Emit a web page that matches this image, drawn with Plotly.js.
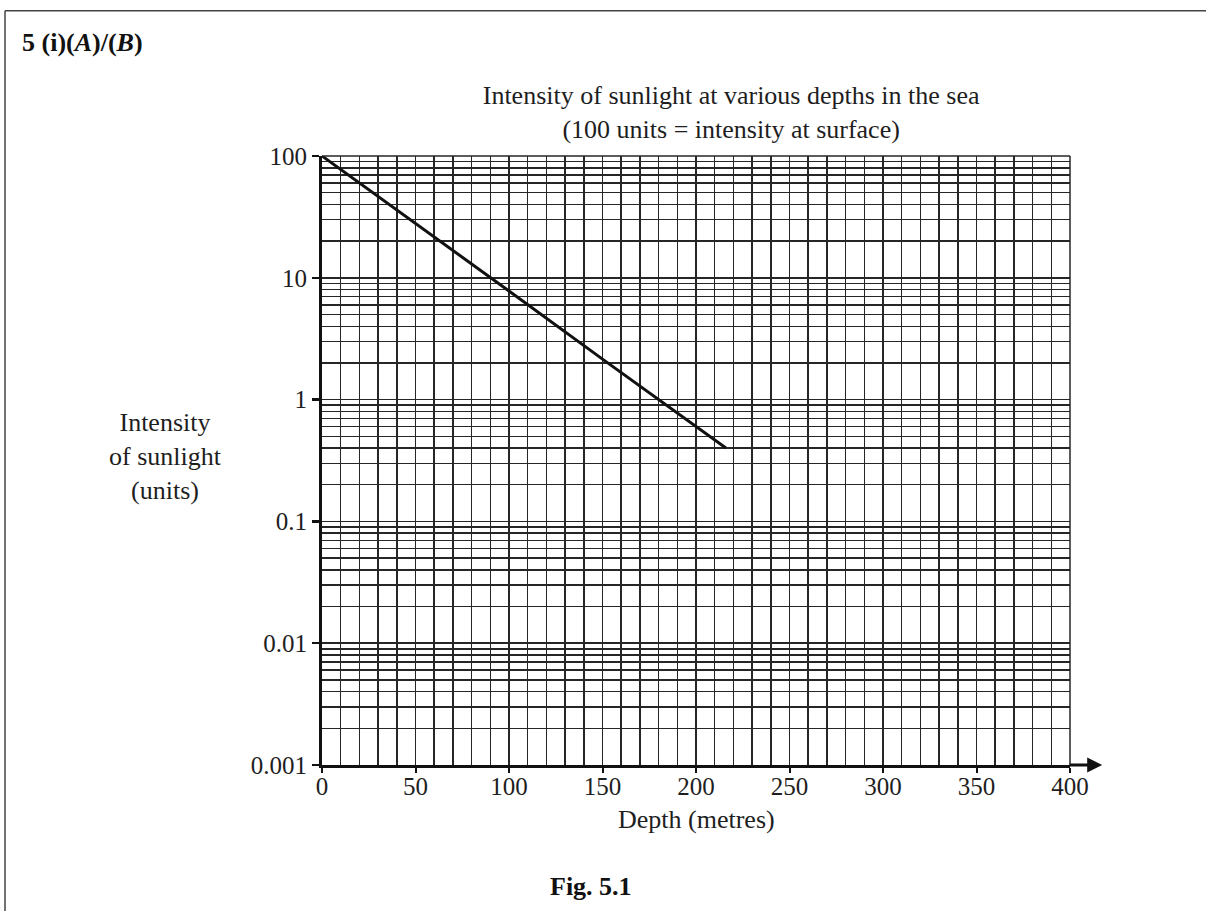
<!DOCTYPE html>
<html>
<head>
<meta charset="utf-8">
<script src="https://cdn.plot.ly/plotly-3.0.1.min.js"></script>
<style>
html,body{margin:0;padding:0;background:#fff;}
#chart{width:1206px;height:911px;}
</style>
</head>
<body>
<div id="chart"></div>
<script>
// Data
const depths = [0, 50, 100, 150, 200, 216];
const intensity = [100, 28, 7.8, 2.15, 0.6, 0.4];

const xTickVals = [0, 50, 100, 150, 200, 250, 300, 350, 400];
const xTickText = ["0", "50", "100", "150", "200", "250", "300", "350", "400"];
const yTickVals = [0.001, 0.01, 0.1, 1, 10, 100];
const yTickText = ["0.001", "0.01", "0.1", "1", "10", "100"];

const chartTitle = "Intensity of sunlight at various depths in the sea<br>(100 units = intensity at surface)";
const xTitle = "Depth (metres)";
const yTitle = "Intensity<br>of sunlight<br>(units)";
const questionLabel = "<b>5 (i)(<i>A</i>)/(<i>B</i>)</b>";
const figLabel = "<b>Fig. 5.1</b>";

const FONT = "Liberation Serif, Times New Roman, serif";
const INK = "#1e1e1e";
const GRID = "#262626";

const trace = {
  x: depths,
  y: intensity,
  type: "scatter",
  mode: "lines",
  line: {color: "#111", width: 3},
  hoverinfo: "skip",
  cliponaxis: false
};

const layout = {
  width: 1206,
  height: 911,
  margin: {l: 322, r: 136, t: 156, b: 146},
  paper_bgcolor: "#fff",
  plot_bgcolor: "#fff",
  showlegend: false,
  font: {family: FONT, size: 25, color: INK},
  title: {
    text: chartTitle,
    font: {family: FONT, size: 26, color: INK},
    x: 0.547, xref: "paper", xanchor: "center",
    y: 0.886, yref: "container", yanchor: "middle"
  },
  xaxis: {
    range: [0, 400],
    tickmode: "array",
    tickvals: xTickVals,
    ticktext: xTickText,
    ticks: "outside",
    ticklen: 5,
    tickwidth: 2,
    tickcolor: "#111",
    ticklabelstandoff: -8,
    showline: true,
    linecolor: "#111",
    linewidth: 3,
    showgrid: true,
    gridcolor: GRID,
    gridwidth: 1.5,
    zeroline: false,
    minor: {dtick: 10, showgrid: true, gridcolor: GRID, gridwidth: 1.5, ticks: ""},
    tickfont: {family: FONT, size: 25, color: INK},
    fixedrange: true
  },
  yaxis: {
    type: "log",
    range: [-3, 2],
    tickmode: "array",
    tickvals: yTickVals,
    ticktext: yTickText,
    ticks: "outside",
    ticklen: 7,
    tickwidth: 2.5,
    tickcolor: "#111",
    showline: true,
    linecolor: "#111",
    linewidth: 3,
    showgrid: true,
    gridcolor: GRID,
    gridwidth: 1.5,
    zeroline: false,
    minor: {dtick: "D1", showgrid: true, gridcolor: GRID, gridwidth: 1.5, ticks: ""},
    tickfont: {family: FONT, size: 25, color: INK},
    fixedrange: true
  },
  shapes: [
    // top and right borders of the grid
    {type: "line", xref: "paper", yref: "paper", x0: 0, x1: 1, y0: 1, y1: 1, line: {color: GRID, width: 1.5}},
    {type: "line", xref: "paper", yref: "paper", x0: 1, x1: 1, y0: 0, y1: 1, line: {color: GRID, width: 1.5}},
    // page frame (left and top)
    {type: "line", xref: "paper", yref: "paper", x0: -0.4238, x1: -0.4238, y0: -0.25, y1: 1.2385, line: {color: "#444", width: 1.5}},
    {type: "line", xref: "paper", yref: "paper", x0: -0.4238, x1: 1.19, y0: 1.2385, y1: 1.2385, line: {color: "#444", width: 1.5}}
  ],
  annotations: [
    {
      text: xTitle, xref: "paper", yref: "paper", x: 0.501, y: -0.089, xanchor: "center", yanchor: "middle",
      showarrow: false, font: {family: FONT, size: 26, color: INK}
    },
    {
      text: yTitle, xref: "paper", yref: "paper", x: -0.209, y: 0.5066, xanchor: "center", yanchor: "middle",
      showarrow: false, align: "center", font: {family: FONT, size: 26, color: INK}
    },
    {
      text: questionLabel, xref: "paper", yref: "paper", x: -0.4035, y: 1.187, xanchor: "left", yanchor: "middle",
      showarrow: false, font: {family: FONT, size: 26, color: "#111"}
    },
    {
      text: figLabel, xref: "paper", yref: "paper", x: 0.36, y: -0.2, xanchor: "center", yanchor: "middle",
      showarrow: false, font: {family: FONT, size: 26, color: "#111"}
    },
    {
      // arrow at end of the x-axis
      text: "", xref: "paper", yref: "paper", x: 1.043, y: 0, ax: -34, ay: 0,
      showarrow: true, arrowhead: 2, arrowsize: 1, arrowwidth: 3, arrowcolor: "#111", standoff: 0
    }
  ]
};

Plotly.newPlot("chart", [trace], layout, {displayModeBar: false, staticPlot: true});
</script>
</body>
</html>
